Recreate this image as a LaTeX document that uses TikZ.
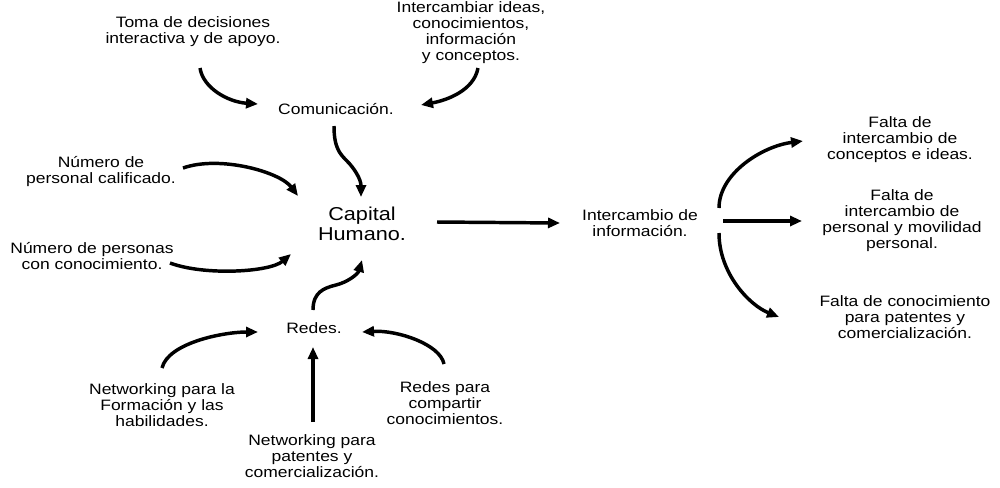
\documentclass[tikz,border=0pt]{standalone}
\usepackage{fontspec}
\setmainfont{Liberation Sans}[FakeStretch=1.16]
\usetikzlibrary{arrows.meta}
\tikzset{
  txt/.style={align=center, inner sep=0pt, font=\fontsize{11.3}{12}\selectfont},
  bigtxt/.style={align=center, inner sep=0pt, font=\fontsize{14}{15.2}\selectfont},
  flow/.style={->, >={Triangle[length=9pt,width=7.5pt]}, line width=2.6pt},
}

\begin{document}
\begin{tikzpicture}[x=0.75pt,y=-0.75pt]
  \useasboundingbox (0,0) rectangle (1000,487);

  % centre
  \node[bigtxt] (capital) at (362,224) {Capital\\Humano.};
  \node[txt] (comun) at (336,109) {Comunicación.};
  \node[txt] (redes) at (314,328) {Redes.};
  \node[txt] (inter) at (640,223) {Intercambio de\\información.};

  % sources
  \node[txt] (toma) at (193,31.5) {Toma de decisiones\\interactiva y de apoyo.};
  \node[txt] (ideas) at (471,33) {Intercambiar ideas,\\conocimientos,\\información\\y conceptos.};
  \node[txt] (calif) at (101,172) {Número de\\personal calificado.};
  \node[txt] (personas) at (92,256) {Número de personas\\con conocimiento.};
  \node[txt] (formacion) at (162,405) {Networking para la\\Formación y las\\habilidades.};
  \node[txt] (patentes) at (312,456) {Networking para\\patentes y\\comercialización.};
  \node[txt] (compartir) at (445,403) {Redes para\\compartir\\conocimientos.};

  % results
  \node[txt] (falta1) at (900,140) {Falta de\\intercambio de\\conceptos e ideas.};
  \node[txt] (falta2) at (902,221) {Falta de\\intercambio de\\personal y movilidad\\personal.};
  \node[txt] (falta3) at (905,317) {Falta de conocimiento\\para patentes y\\comercialización.};

  % into Comunicacion
  \draw[flow] ([shift={(7,36.5)}]toma.center) .. controls +(3,20) and +(-30,-2) .. ([shift={(-78,-5)}]comun.center);
  \draw[flow] ([shift={(7,35)}]ideas.center) .. controls +(-4,22) and +(27,-5) .. ([shift={(85,-4)}]comun.center);

  % into Capital Humano
  \draw[flow] ([shift={(-2,17)}]comun.center) .. controls +(0,22) and (340,154) .. (347,161)
    .. controls (354,168) and +(0,-18) .. ([shift={(-1,-27)}]capital.center);
  \draw[flow] ([shift={(82,-4)}]calif.center) .. controls +(37,-13) and +(-18,-24) .. ([shift={(-64,-28)}]capital.center);
  \draw[flow] ([shift={(78,7)}]personas.center) .. controls +(35,13) and +(-21,18) .. ([shift={(-71,30)}]capital.center);
  \draw[flow] ([shift={(-1,-18)}]redes.center) .. controls +(0,-18) and (324,288) .. (336,285)
    .. controls (348,282) and +(-4,14) .. ([shift={(0,36)}]capital.center);

  % into Redes
  \draw[flow] ([shift={(0,-37)}]formacion.center) .. controls +(6,-25) and +(-35,0) .. ([shift={(-56,4)}]redes.center);
  \draw[flow] ([shift={(1,-34)}]patentes.center) -- ([shift={(-1,19)}]redes.center);
  \draw[flow] ([shift={(-1,-39)}]compartir.center) .. controls +(-4,-20) and +(35,-2) .. ([shift={(48,4)}]redes.center);

  % out of Capital Humano
  \draw[flow] ([shift={(75,-2)}]capital.center) -- ([shift={(-80,0)}]inter.center);
  \draw[flow] ([shift={(79,-15)}]inter.center) .. controls +(0,-35) and +(-40,5) .. ([shift={(-97,1)}]falta1.center);
  \draw[flow] ([shift={(83,-2)}]inter.center) -- ([shift={(-100,0)}]falta2.center);
  \draw[flow] ([shift={(79,10)}]inter.center) .. controls +(0,40) and +(-30,-12) .. ([shift={(-126,0)}]falta3.center);
\end{tikzpicture}
\end{document}
